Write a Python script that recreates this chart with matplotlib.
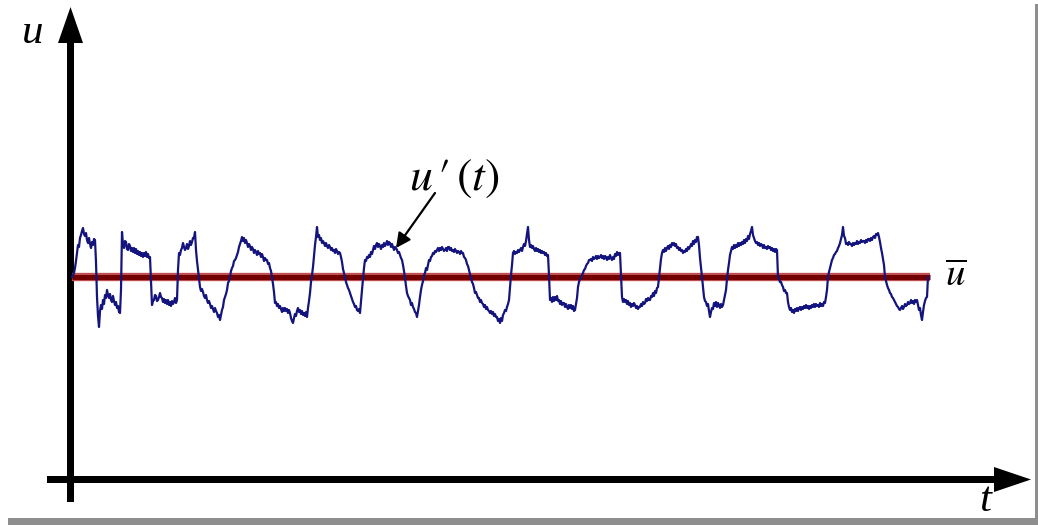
import matplotlib
matplotlib.use("Agg")
import numpy as np
import matplotlib.pyplot as plt
from matplotlib.patches import Polygon, Rectangle

plt.rcParams["mathtext.fontset"] = "stix"

# Instantaneous velocity u (m/s), sampled every 1 ms
u_ms = [
    10.0, 10.2, 10.4, 10.9, 11.6, 12.4, 13.2, 13.0, 13.9, 14.2,
    14.6, 14.9, 14.3, 14.1, 14.4, 13.7, 13.4, 13.9, 13.3, 12.9,
    13.5, 13.2, 13.8, 13.7, 11.5, 8.0, 6.1, 5.0, 6.6, 7.2,
    6.8, 7.7, 7.3, 8.2, 7.9, 8.7, 8.2, 7.9, 8.3, 7.7,
    7.5, 8.1, 7.6, 7.2, 7.5, 6.9, 7.1, 6.5, 6.4, 8.7,
    14.5, 13.2, 12.9, 13.6, 13.5, 12.8, 12.7, 13.3, 13.1, 12.6,
    12.9, 12.5, 12.9, 12.4, 12.8, 12.3, 12.6, 12.2, 12.5, 12.1,
    12.4, 12.0, 12.4, 12.1, 12.5, 12.0, 12.3, 11.9, 12.0, 9.7,
    7.2, 7.6, 7.7, 8.2, 8.1, 7.6, 7.7, 8.0, 8.4, 8.0,
    7.9, 7.5, 7.8, 7.4, 7.7, 7.3, 7.7, 7.2, 7.5, 7.1,
    7.6, 7.3, 7.5, 7.9, 7.4, 7.7, 10.7, 12.4, 12.2, 12.7,
    12.9, 13.4, 13.0, 12.7, 12.9, 13.3, 12.8, 13.1, 13.6, 13.2,
    13.5, 13.9, 13.9, 14.5, 12.7, 11.6, 10.7, 9.8, 9.0, 8.6,
    8.8, 8.5, 8.1, 7.9, 8.2, 7.7, 7.4, 7.6, 7.3, 6.9,
    7.1, 6.8, 6.5, 6.9, 6.6, 6.4, 6.0, 6.2, 5.7, 6.2,
    6.7, 7.0, 7.7, 8.0, 8.3, 8.7, 9.4, 9.6, 10.0, 10.6,
    10.9, 11.1, 11.6, 11.7, 11.9, 12.2, 12.5, 13.0, 13.3, 13.6,
    14.0, 13.6, 13.9, 13.4, 13.7, 13.4, 13.0, 13.3, 13.1, 12.7,
    13.0, 12.8, 12.4, 12.7, 12.5, 12.2, 12.6, 12.3, 12.4, 12.0,
    12.3, 12.0, 11.6, 11.9, 11.7, 11.7, 11.3, 11.4, 10.9, 10.6,
    10.0, 9.3, 8.5, 7.4, 7.5, 7.1, 7.3, 6.9, 7.1, 6.8,
    6.5, 6.9, 6.6, 6.9, 6.6, 6.8, 6.4, 6.7, 6.4, 5.9,
    5.6, 5.4, 5.9, 6.3, 6.1, 6.6, 6.9, 6.5, 6.7, 6.3,
    6.6, 6.2, 6.4, 6.1, 6.5, 6.0, 6.9, 7.6, 8.4, 9.5,
    10.2, 11.0, 12.1, 13.2, 14.0, 15.0, 14.0, 14.2, 13.7, 13.9,
    13.4, 13.6, 13.4, 13.1, 13.4, 13.1, 12.9, 13.2, 13.0, 12.7,
    12.9, 12.6, 12.7, 12.4, 12.8, 12.6, 12.3, 12.5, 12.4, 12.0,
    11.5, 10.8, 10.4, 10.0, 9.5, 9.2, 8.9, 8.7, 8.4, 8.1,
    7.8, 7.5, 7.3, 7.0, 7.1, 6.7, 6.6, 6.8, 6.4, 7.6,
    8.7, 9.8, 10.9, 11.7, 11.6, 12.0, 11.9, 12.2, 12.0, 12.5,
    12.3, 12.7, 13.1, 12.8, 13.2, 13.4, 13.0, 13.3, 13.1, 12.8,
    13.2, 13.0, 13.4, 13.1, 13.3, 13.6, 13.2, 13.5, 13.4, 13.0,
    13.3, 13.0, 12.7, 13.0, 12.9, 12.7, 12.4, 12.5, 12.2, 11.9,
    11.7, 11.2, 10.6, 9.9, 9.1, 8.4, 8.1, 7.9, 7.7, 7.2,
    7.4, 7.0, 6.8, 6.5, 6.4, 6.0, 6.6, 7.2, 8.0, 8.7,
    9.2, 9.6, 10.2, 10.4, 10.9, 10.7, 11.2, 11.7, 11.6, 12.0,
    12.1, 12.4, 12.3, 12.6, 12.5, 12.7, 12.9, 12.6, 12.9, 12.7,
    13.0, 12.8, 12.6, 12.7, 12.9, 12.6, 13.0, 13.0, 12.7, 12.9,
    12.6, 12.7, 12.5, 12.8, 12.6, 12.4, 12.6, 12.5, 12.3, 12.6,
    12.4, 12.4, 12.0, 11.9, 11.7, 11.3, 11.1, 10.7, 10.3, 9.9,
    9.5, 9.3, 8.9, 8.4, 8.5, 8.2, 7.9, 7.9, 7.5, 7.7,
    7.4, 7.3, 7.0, 7.2, 6.8, 7.0, 6.7, 6.6, 6.4, 6.6,
    6.3, 6.5, 6.1, 6.3, 6.0, 6.0, 5.6, 5.8, 5.4, 5.9,
    5.6, 6.2, 6.4, 6.7, 6.6, 7.0, 7.3, 7.7, 9.0, 10.2,
    11.2, 12.4, 12.6, 12.3, 12.5, 12.4, 12.7, 12.5, 12.7, 12.9,
    12.6, 13.0, 13.3, 13.1, 13.6, 14.3, 15.0, 13.7, 13.0, 13.2,
    12.9, 13.1, 12.8, 12.6, 12.9, 12.6, 12.8, 12.5, 12.7, 12.4,
    12.6, 12.4, 12.5, 12.2, 12.4, 12.1, 12.2, 10.2, 7.7, 7.9,
    7.5, 8.0, 7.6, 8.0, 7.7, 8.1, 7.6, 7.7, 7.3, 7.6,
    7.2, 7.4, 7.4, 7.0, 7.3, 7.0, 6.8, 7.2, 6.9, 7.2,
    6.8, 7.1, 6.6, 6.7, 7.3, 7.9, 9.0, 9.5, 9.8, 9.9,
    10.2, 10.4, 10.7, 10.8, 11.1, 11.3, 11.4, 11.7, 11.7, 11.8,
    11.6, 12.0, 11.8, 11.9, 12.1, 11.8, 12.1, 11.9, 12.0, 12.2,
    11.9, 12.1, 11.8, 12.1, 12.0, 11.7, 12.0, 11.8, 12.2, 11.9,
    11.7, 12.0, 11.8, 12.3, 12.1, 12.5, 12.2, 12.4, 12.4, 10.2,
    8.0, 7.5, 7.8, 7.5, 7.7, 7.3, 7.6, 7.2, 7.4, 7.0,
    7.3, 7.1, 7.4, 7.2, 6.9, 7.1, 6.8, 7.0, 7.0, 7.3,
    7.1, 7.5, 7.3, 7.4, 7.8, 7.6, 7.9, 7.7, 7.7, 8.1,
    8.0, 8.4, 8.1, 8.6, 8.4, 8.9, 9.0, 9.9, 10.7, 11.8,
    12.4, 12.7, 12.5, 12.9, 12.6, 12.9, 13.1, 12.8, 13.2, 13.0,
    13.4, 13.2, 13.4, 13.1, 13.3, 12.9, 13.0, 12.7, 12.9, 12.6,
    12.7, 12.4, 12.6, 12.5, 12.8, 12.6, 13.0, 12.8, 13.0, 13.3,
    13.1, 13.6, 13.3, 13.7, 13.5, 14.0, 14.0, 13.2, 11.9, 11.0,
    10.0, 9.0, 8.0, 7.6, 7.5, 7.1, 7.3, 6.6, 6.0, 6.5,
    6.9, 6.8, 7.4, 7.1, 7.5, 7.0, 7.4, 7.2, 6.9, 7.3,
    7.0, 7.2, 7.7, 8.2, 8.7, 9.8, 10.7, 11.4, 12.2, 12.6,
    13.0, 12.8, 13.2, 12.9, 13.2, 13.0, 13.4, 13.1, 13.4, 13.2,
    13.5, 13.3, 13.7, 13.4, 13.8, 13.6, 14.1, 13.8, 14.3, 14.6,
    15.0, 14.2, 13.9, 13.6, 13.4, 13.5, 13.2, 13.4, 13.1, 13.3,
    13.2, 12.9, 13.2, 12.9, 13.0, 12.8, 13.1, 12.9, 13.0, 12.7,
    12.9, 12.6, 12.8, 12.5, 12.8, 12.7, 10.0, 9.8, 9.5, 9.5,
    9.2, 9.0, 8.6, 8.7, 8.4, 8.4, 7.5, 7.0, 6.7, 6.9,
    6.5, 6.7, 6.4, 6.8, 6.6, 6.9, 6.6, 6.9, 7.0, 6.7,
    7.0, 6.8, 7.1, 6.9, 7.2, 6.9, 7.1, 6.8, 7.1, 6.9,
    7.2, 7.0, 7.3, 7.0, 7.3, 7.1, 7.2, 7.0, 7.4, 7.1,
    7.3, 7.1, 7.5, 7.4, 8.0, 8.7, 10.0, 10.5, 10.9, 11.3,
    11.7, 11.9, 12.2, 12.3, 12.5, 12.6, 12.9, 13.1, 13.4, 13.8,
    14.2, 15.0, 14.1, 13.9, 13.3, 13.4, 13.2, 13.5, 13.3, 13.3,
    13.1, 13.4, 13.2, 13.4, 13.3, 13.6, 13.3, 13.5, 13.4, 13.7,
    13.5, 13.6, 13.6, 13.4, 13.7, 13.5, 13.8, 13.8, 13.6, 13.9,
    13.7, 14.0, 14.1, 13.9, 14.3, 14.2, 14.4, 14.0, 13.5, 12.9,
    12.4, 11.8, 11.2, 10.0, 9.6, 9.2, 8.9, 8.7, 8.4, 8.3,
    8.0, 7.9, 7.7, 7.5, 7.3, 7.1, 7.0, 6.8, 6.7, 6.9,
    7.1, 6.8, 7.0, 7.3, 7.1, 7.2, 7.5, 7.3, 7.4, 7.7,
    7.4, 7.6, 7.3, 7.7, 7.5, 7.7, 7.2, 6.7, 6.9, 6.2,
    5.7, 6.5, 7.2, 7.6, 7.9, 8.0, 10.0,
]
t_ms = np.arange(len(u_ms))          # sample times, 1 ms apart
u_mean = 10.0                        # time-averaged velocity

W, H = 1038, 525
fig = plt.figure(figsize=(W / 100, H / 100), dpi=100)
fig.patch.set_facecolor("white")

# Decoration layer in pixel units (origin top-left)
deco = fig.add_axes([0, 0, 1, 1])
deco.set_xlim(0, W)
deco.set_ylim(H, 0)
deco.axis("off")

# frame shading at right and bottom edges
deco.add_patch(Rectangle((1034.5, 4), 4, 525, color="#8e8e8e", lw=0))
deco.add_patch(Rectangle((8, 518), 1040, 8, color="#8e8e8e", lw=0))

# vertical axis with arrow head
deco.add_patch(Rectangle((67, 38), 7, 464, color="black", lw=0))
deco.add_patch(Polygon([(70.5, 7), (58, 43), (83, 43)], closed=True, color="black", lw=0))
# horizontal axis with arrow head
deco.add_patch(Rectangle((47, 476), 952, 7, color="black", lw=0))
deco.add_patch(Polygon([(1031, 479.5), (994, 467), (994, 492)], closed=True, color="black", lw=0))

deco.text(33, 43, "u", fontsize=31, family="Liberation Serif", style="italic",
          ha="center", va="baseline", color="black")
deco.text(985, 511, "t", fontsize=31, family="Liberation Serif", style="italic",
          ha="center", va="baseline", color="black")

# Data layer
ax = fig.add_axes([0, 0, 1, 1])
ax.patch.set_alpha(0)
ax.set_xlim(-72, W - 72)
ax.set_ylim(10 - (H - 277) / 10, 10 + 277 / 10)
ax.axis("off")

t_end = t_ms[-1] + 2
ax.plot([t_ms[0], t_end], [u_mean, u_mean], color="#c05050", lw=6.0, solid_capstyle="butt", zorder=2)
ax.plot([t_ms[0], t_end], [u_mean, u_mean], color="#720000", lw=3.6, solid_capstyle="butt", zorder=3)

ax.plot(t_ms, u_ms, color="#14147f", lw=1.6, zorder=4, solid_joinstyle="round")

ax.text(t_end + 26, u_mean - 0.9, r"$\overline{u}$", fontsize=28, ha="center", va="baseline", color="black")

ax.annotate("", xy=(324, 12.9), xytext=(363, 18.4),
            arrowprops=dict(arrowstyle="-|>", color="black", lw=1.6, mutation_scale=22,
                            shrinkA=0, shrinkB=0), zorder=5)
ax.text(382, 18.7, r"$u\,\prime\,(t)$", fontsize=33, ha="center", va="baseline", color="black")

fig.savefig("out.png", dpi=100)
